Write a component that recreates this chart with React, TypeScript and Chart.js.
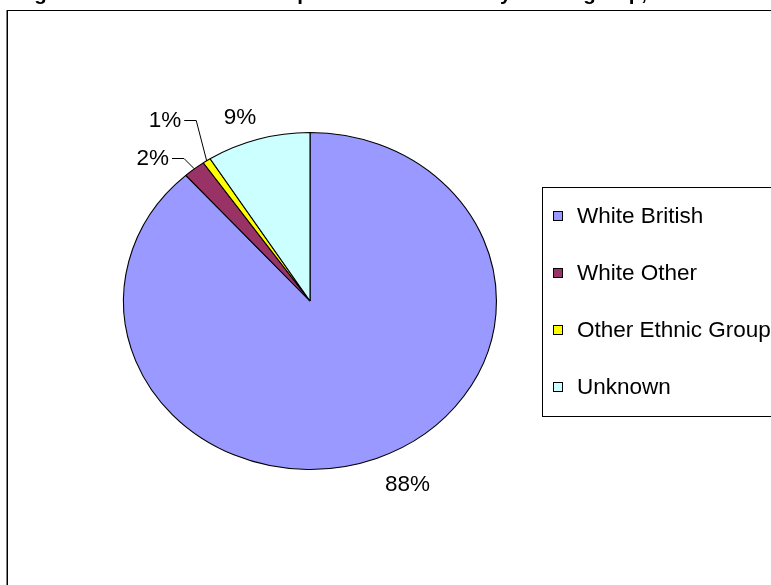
import React, { useEffect, useRef } from "react";
import { Chart, registerables } from "chart.js";

Chart.register(...registerables);

const TITLE = "Figure 3: Overall Ethnic Composition of all Staff by ethnic group, 2008";
const categories = ["White British", "White Other", "Other Ethnic Group", "Unknown"];
const shares = [88.4, 1.9, 0.7, 9.0];
const colors = ["#9999FF", "#993366", "#FFFF00", "#CCFFFF"];

// label placement (offset of label centre from slice mid-point on the rim), and leader flag
const labelOffsets = [
  [31, 25],
  [-41.6, -10.8],
  [-41.7, -40.9],
  [-18, -22],
];
const leaders = [false, true, true, false];

const SX = 187 / 169; // horizontal stretch of the pie (ellipse)
const FONT = '22.5px "Liberation Sans", Arial, sans-serif';

const framePlugin = {
  id: "frame",
  beforeDraw(chart: any) {
    const ctx = chart.ctx;
    ctx.save();
    ctx.fillStyle = "#ffffff";
    ctx.fillRect(0, 0, chart.width, chart.height);
    ctx.strokeStyle = "#000000";
    ctx.lineWidth = 1;
    ctx.strokeRect(7.5, 10.5, chart.width + 20, chart.height + 20);
    ctx.beginPath();
    ctx.moveTo(7, 10);
    ctx.lineTo(7, chart.height);
    ctx.stroke();
    ctx.font = 'bold 20.5px "Liberation Sans", Arial, sans-serif';
    ctx.fillStyle = "#000000";
    ctx.textBaseline = "alphabetic";
    ctx.textAlign = "left";
    ctx.fillText(TITLE, 16, 0);
    ctx.restore();
  },
};

const ellipsePlugin = {
  id: "ellipse",
  beforeDatasetsDraw(chart: any) {
    const arc = chart.getDatasetMeta(0).data[0];
    const ctx = chart.ctx;
    ctx.save();
    ctx.translate(arc.x, arc.y);
    ctx.scale(SX, 1);
    ctx.translate(-arc.x, -arc.y);
  },
  afterDatasetsDraw(chart: any) {
    chart.ctx.restore();
  },
};

const labelPlugin = {
  id: "pieLabels",
  afterDatasetsDraw(chart: any) {
    const ctx = chart.ctx;
    const meta = chart.getDatasetMeta(0);
    const values: number[] = chart.data.datasets[0].data;
    const total = values.reduce((a, b) => a + b, 0);
    ctx.save();
    ctx.font = FONT;
    ctx.fillStyle = "#000000";
    ctx.textAlign = "center";
    ctx.textBaseline = "middle";
    meta.data.forEach((arc: any, i: number) => {
      const mid = (arc.startAngle + arc.endAngle) / 2;
      const r = arc.outerRadius;
      const ax = arc.x + Math.cos(mid) * r * SX;
      const ay = arc.y + Math.sin(mid) * r;
      const lx = ax + labelOffsets[i][0];
      const ly = ay + labelOffsets[i][1];
      const text = Math.round((values[i] / total) * 100) + "%";
      ctx.fillText(text, lx, ly + 1);
      if (leaders[i]) {
        const w = ctx.measureText(text).width;
        const right = lx + w / 2;
        ctx.beginPath();
        ctx.strokeStyle = "#000000";
        ctx.lineWidth = 1;
        ctx.moveTo(right + 3, Math.round(ly) + 0.5);
        ctx.lineTo(right + 15, Math.round(ly) + 0.5);
        ctx.lineTo(ax, ay);
        ctx.stroke();
      }
    });
    ctx.restore();
  },
};

const legendPlugin = {
  id: "boxLegend",
  afterDraw(chart: any) {
    const ctx = chart.ctx;
    const labels: string[] = chart.data.labels;
    const bg: string[] = chart.data.datasets[0].backgroundColor;
    ctx.save();
    ctx.strokeStyle = "#000000";
    ctx.lineWidth = 1;
    ctx.strokeRect(542.5, 187.5, 300, 229);
    ctx.font = FONT;
    ctx.textAlign = "left";
    ctx.textBaseline = "middle";
    labels.forEach((lab, i) => {
      const y = 216 + i * 57;
      ctx.fillStyle = bg[i];
      ctx.fillRect(553, y - 5, 10, 10);
      ctx.strokeStyle = "#000000";
      ctx.strokeRect(553.5, y - 4.5, 9, 9);
      ctx.fillStyle = "#000000";
      ctx.fillText(lab, 577, y + 1);
    });
    ctx.restore();
  },
};

export default function App() {
  const ref = useRef<HTMLCanvasElement | null>(null);
  useEffect(() => {
    if (!ref.current) return;
    const chart = new Chart(ref.current, {
      type: "pie",
      data: {
        labels: categories,
        datasets: [
          {
            data: shares,
            backgroundColor: colors,
            borderColor: "#000000",
            borderWidth: 1,
          },
        ],
      },
      options: {
        responsive: false,
        animation: false,
        layout: { padding: { left: 141, right: 292, top: 132, bottom: 115 } },
        plugins: {
          legend: { display: false },
          tooltip: { enabled: false },
          title: { display: false },
        },
      },
      plugins: [framePlugin, ellipsePlugin, labelPlugin, legendPlugin],
    });
    return () => chart.destroy();
  }, []);
  return (
    <div style={{ position: "absolute", left: 0, top: 0, width: 771, height: 585 }}>
      <canvas ref={ref} width={771} height={585} style={{ display: "block" }} />
    </div>
  );
}
